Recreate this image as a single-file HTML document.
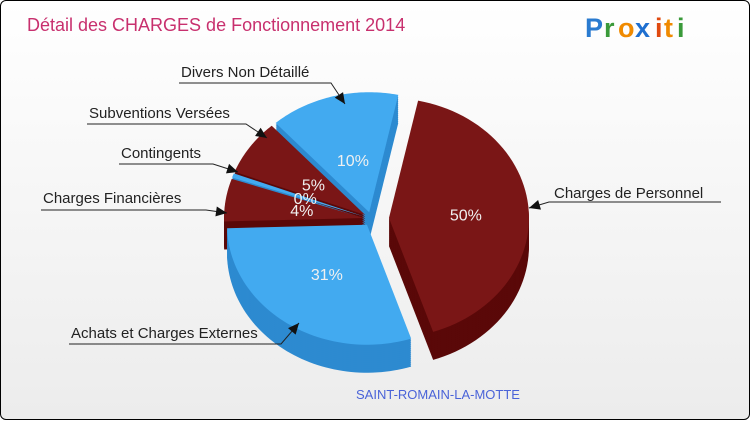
<!DOCTYPE html>
<html><head><meta charset="utf-8"><style>
body{margin:0;width:750px;height:420px;overflow:hidden;font-family:"Liberation Sans",sans-serif}
#c{position:absolute;left:0;top:0;width:748px;height:418px;border:1px solid #000;border-radius:6px;background:linear-gradient(#fff,#ececec)}
</style></head><body>
<div id="c">
<svg id="s" width="750" height="420">
<text x="26" y="30" font-size="18" fill="#c8306e">Détail des CHARGES de Fonctionnement 2014</text>
<g font-size="27" font-weight="bold" font-family="Liberation Sans, sans-serif">
<text x="584" y="36" fill="#2a7bd0">P</text><text x="603" y="36" fill="#3a9a3a">r</text><text x="617" y="36" fill="#f08a00">o</text><text x="634" y="36" fill="#1e6fd0">x</text><text x="654" y="36" fill="#e04a10">i</text><text x="663" y="36" fill="#f08a00">t</text><text x="676" y="36" fill="#3a9a3a">i</text></g>
<text x="355" y="398" font-size="13" fill="#4a63d8">SAINT-ROMAIN-LA-MOTTE</text>
</svg></div>
<script>
const categories=["Charges de Personnel","Achats et Charges Externes","Charges Financières","Contingents","Subventions Versées","Divers Non Détaillé"];
const values=[50,31,4,0.4,5,10];
const pctLabels=["50%","31%","4%","0%","5%","10%"];
const labelPos=[[553,197,"start",528,207,[[720,201],[548,201]]],[70,337,"start",298,322,[[68,343],[280,343]]],[42,202,"start",226,212,[[40,209],[205,209]]],[120,157,"start",237,171,[[118,163],[212,163]]],[88,117,"start",266,137,[[86,123],[245,123]]],[180,76,"start",344,103,[[178,82],[330,82]]]];
const ns="http://www.w3.org/2000/svg",svgEl=document.getElementById('s');
const cx=370,cy=218,rx=140,ry=120,depth=28,startAng=-85;
const total=values.reduce((a,b)=>a+b,0);
const topCol=["#7a1616","#42aaf0"],sideCol=["#5a0808","#2d8ad0"];
function el(t,a){const e=document.createElementNS(ns,t);for(const k in a)e.setAttribute(k,a[k]);return e;}
function warp(a){return a-8-30*Math.cos((a-155)*Math.PI/180);}
let ang=startAng;const sl=[];
values.forEach((v,i)=>{const sw=v/total*360;const a0=warp(ang),a1=warp(ang+sw);sl.push({i,a0,a1,mid:(a0+a1)/2});ang+=sw;});
function off(o){const r=Math.PI/180,ex=(o.i==0?18:7);return [cx+ex*Math.cos(o.mid*r),cy+ex*Math.sin(o.mid*r)];}
function wedge(o,dy){const r=Math.PI/180;const [ox,oy0]=off(o),oy=oy0+dy;
let d=`M${ox},${oy}`;for(let a=o.a0;a<=o.a1+0.01;a+=Math.max(0.5,(o.a1-o.a0)/60)){d+=`L${ox+rx*Math.cos(a*r)},${oy+ry*Math.sin(a*r)}`;}
d+=`L${ox+rx*Math.cos(o.a1*r)},${oy+ry*Math.sin(o.a1*r)}Z`;return d;}
const order=sl.slice().sort((a,b)=>Math.sin(a.mid*Math.PI/180)-Math.sin(b.mid*Math.PI/180));
order.forEach(o=>{const g=el('g',{});


const c=o.i==0||o.i==2||o.i==4?0:1;
for(let d=depth;d>0;d-=2)g.appendChild(el('path',{d:wedge(o,d),fill:sideCol[c]}));
g.appendChild(el('path',{d:wedge(o,0),fill:topCol[c]}));svgEl.appendChild(g);});
sl.forEach(o=>{const r=Math.PI/180,f=o.i==0?0.55:(o.i==1?0.5:0.45);const [ox,oy]=off(o);
const t=el('text',{x:ox+rx*f*Math.cos(o.mid*r),y:oy+ry*f*Math.sin(o.mid*r)+6,'text-anchor':'middle','font-size':16,fill:'#f0f0f0'});


t.textContent=pctLabels[o.i];svgEl.appendChild(t);
const L=labelPos[o.i];
const tx=el('text',{x:L[0],y:L[1],'font-size':15,fill:'#222'});


tx.textContent=categories[o.i];svgEl.appendChild(tx);
const pts=L[5].map(p=>p.join(',')).join(' ')+' '+L[3]+','+L[4];
const pl=el('polyline',{points:pts,fill:'none',stroke:'#222','stroke-width':1});


svgEl.appendChild(pl);
const p=L[5][L[5].length-1],dx=L[3]-p[0],dy=L[4]-p[1],len=Math.hypot(dx,dy),ux=dx/len,uy=dy/len;
const ah=el('polygon',{points:`${L[3]},${L[4]} ${L[3]-11*ux-5*uy},${L[4]-11*uy+5*ux} ${L[3]-11*ux+5*uy},${L[4]-11*uy-5*ux}`,fill:'#111'});


svgEl.appendChild(ah);});
</script>
</body></html>
